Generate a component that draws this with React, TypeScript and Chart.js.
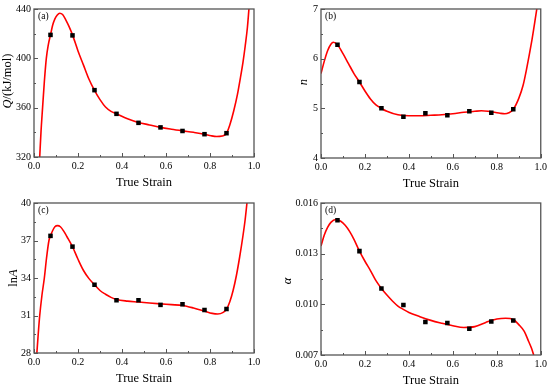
import React, { useEffect, useRef } from 'react';
import { Chart, registerables } from 'chart.js';

Chart.register(...registerables);

// ---------- data ----------
const strain = [0.075, 0.175, 0.275, 0.375, 0.475, 0.575, 0.675, 0.775, 0.875];
const qValues = [419, 418.6, 374.2, 355, 347.7, 344, 341.1, 338.5, 339.3];
const nValues = [6.28, 5.53, 5.0, 4.83, 4.9, 4.86, 4.94, 4.91, 4.98];
const lnAValues = [37.37, 36.51, 33.46, 32.22, 32.22, 31.85, 31.9, 31.44, 31.52];
const alphaValues = [0.01498, 0.01315, 0.01094, 0.00996, 0.00896, 0.0089, 0.00855, 0.00898, 0.00904];

const qFitX = [0.026, 0.032, 0.039, 0.047, 0.056, 0.065, 0.075, 0.085, 0.095, 0.105, 0.117, 0.13, 0.145, 0.16, 0.175, 0.2, 0.225, 0.25, 0.275, 0.3, 0.325, 0.35, 0.375, 0.425, 0.475, 0.525, 0.575, 0.625, 0.675, 0.725, 0.775, 0.805, 0.83, 0.855, 0.875, 0.89, 0.908, 0.925, 0.938, 0.95, 0.96, 0.97, 0.977];
const qFitY = [320, 341, 360, 381, 400, 411, 419, 427, 432, 435, 436.6, 435.5, 431, 425.5, 419, 406, 394.5, 383, 374, 366.5, 360.5, 357, 355, 351, 348, 346, 344, 342.5, 341.2, 340, 338.5, 337.2, 336.6, 337, 339.3, 346, 357.5, 371, 384, 397, 410, 425, 440];

const nFitX = [0, 0.015, 0.03, 0.045, 0.056, 0.075, 0.1, 0.125, 0.15, 0.175, 0.2, 0.225, 0.25, 0.275, 0.3, 0.35, 0.4, 0.45, 0.5, 0.55, 0.6, 0.65, 0.7, 0.73, 0.76, 0.79, 0.815, 0.836, 0.855, 0.875, 0.9, 0.92, 0.935, 0.95, 0.96, 0.968, 0.975, 0.982];
const nFitY = [5.7, 5.95, 6.16, 6.29, 6.33, 6.28, 6.1, 5.9, 5.7, 5.53, 5.35, 5.19, 5.07, 5.0, 4.94, 4.87, 4.85, 4.85, 4.86, 4.87, 4.89, 4.92, 4.94, 4.95, 4.94, 4.92, 4.9, 4.89, 4.91, 4.98, 5.2, 5.47, 5.78, 6.13, 6.38, 6.6, 6.8, 7.0];

const lnAFitX = [0.013, 0.02, 0.026, 0.036, 0.047, 0.057, 0.068, 0.075, 0.085, 0.095, 0.107, 0.12, 0.135, 0.15, 0.175, 0.2, 0.225, 0.25, 0.275, 0.3, 0.325, 0.35, 0.375, 0.425, 0.475, 0.525, 0.575, 0.625, 0.675, 0.725, 0.775, 0.81, 0.835, 0.86, 0.875, 0.89, 0.905, 0.92, 0.935, 0.95, 0.96, 0.968];
const lnAFitY = [28, 29.7, 31, 32.6, 34, 35.6, 37, 37.37, 37.8, 38.1, 38.19, 38.1, 37.75, 37.3, 36.5, 35.5, 34.6, 33.95, 33.46, 33.0, 32.7, 32.45, 32.28, 32.15, 32.08, 32.0, 31.93, 31.87, 31.8, 31.6, 31.35, 31.17, 31.12, 31.25, 31.5, 32.1, 33.0, 34.2, 35.7, 37.4, 38.7, 40];

const alphaFitX = [0, 0.015, 0.03, 0.045, 0.067, 0.09, 0.11, 0.13, 0.15, 0.175, 0.2, 0.225, 0.25, 0.275, 0.3, 0.325, 0.35, 0.375, 0.4, 0.45, 0.5, 0.55, 0.6, 0.65, 0.7, 0.75, 0.8, 0.84, 0.875, 0.9, 0.925, 0.945, 0.958, 0.968];
const alphaFitY = [0.01345, 0.0141, 0.01455, 0.01485, 0.01502, 0.01492, 0.01468, 0.01432, 0.01385, 0.01315, 0.01255, 0.0120, 0.0114, 0.01094, 0.01055, 0.0102, 0.0099, 0.0097, 0.00952, 0.00927, 0.00905, 0.00888, 0.00873, 0.00863, 0.00868, 0.00893, 0.00913, 0.00918, 0.0091, 0.0088, 0.0084, 0.0078, 0.0074, 0.0070];

const strainTicks = [0, 0.2, 0.4, 0.6, 0.8, 1.0];
const qTicks = [320, 360, 400, 440];
const nTicks = [4, 5, 6, 7];
const lnATicks = [28, 31, 34, 37, 40];
const alphaTicks = [0.007, 0.01, 0.013, 0.016];

const xTitle = 'True Strain';

// ---------- layout ----------
const FONT = '"Liberation Serif", "Times New Roman", serif';
const CW = 275;
const CH = 194;

type Part = { t: string; italic?: boolean };
type Panel = {
  tag: string;
  yTitle: Part[];
  pts: number[];
  fitX: number[];
  fitY: number[];
  yTicks: number[];
  decimals: number;
  pos: { left: number; top: number };
  area: { left: number; top: number; right: number; bottom: number };
  titleX: number;
  titleY: number;
};

const panels: Panel[] = [
  {
    tag: '(a)', yTitle: [{ t: 'Q', italic: true }, { t: '/(kJ/mol)' }],
    pts: qValues, fitX: qFitX, fitY: qFitY, yTicks: qTicks, decimals: 0,
    pos: { left: 0, top: 0 }, area: { left: 34, top: 6, right: 254, bottom: 157 },
    titleX: 11, titleY: 81,
  },
  {
    tag: '(b)', yTitle: [{ t: 'n', italic: true }],
    pts: nValues, fitX: nFitX, fitY: nFitY, yTicks: nTicks, decimals: 0,
    pos: { left: 275, top: 0 }, area: { left: 46, top: 6, right: 266, bottom: 158 },
    titleX: 32, titleY: 82,
  },
  {
    tag: '(c)', yTitle: [{ t: 'ln' }, { t: 'A', italic: true }],
    pts: lnAValues, fitX: lnAFitX, fitY: lnAFitY, yTicks: lnATicks, decimals: 0,
    pos: { left: 0, top: 194 }, area: { left: 34, top: 9, right: 254, bottom: 159 },
    titleX: 17, titleY: 84,
  },
  {
    tag: '(d)', yTitle: [{ t: 'α', italic: true }],
    pts: alphaValues, fitX: alphaFitX, fitY: alphaFitY, yTicks: alphaTicks, decimals: 3,
    pos: { left: 275, top: 194 }, area: { left: 46, top: 8, right: 266, bottom: 161 },
    titleX: 16, titleY: 87,
  },
];

function decoPlugin(p: Panel) {
  return {
    id: 'deco' + p.tag,
    afterDraw(chart: any) {
      const ctx = chart.ctx as CanvasRenderingContext2D;
      const { left, top, right, bottom } = chart.chartArea;
      const xs = chart.scales.x;
      const ys = chart.scales.y;
      ctx.save();
      ctx.strokeStyle = '#555';
      ctx.lineWidth = 1.3;
      ctx.strokeRect(left, top, right - left, bottom - top);
      ctx.lineWidth = 1;
      ctx.beginPath();
      const drawX = (v: number, len: number) => {
        const px = Math.round(xs.getPixelForValue(v)) + 0.5;
        ctx.moveTo(px, bottom);
        ctx.lineTo(px, bottom - len);
      };
      const drawY = (v: number, len: number) => {
        const py = Math.round(ys.getPixelForValue(v)) + 0.5;
        ctx.moveTo(left, py);
        ctx.lineTo(left + len, py);
      };
      strainTicks.forEach((v, i) => {
        drawX(v, 4);
        if (i < strainTicks.length - 1) drawX((v + strainTicks[i + 1]) / 2, 2);
      });
      p.yTicks.forEach((v, i) => {
        drawY(v, 4);
        if (i < p.yTicks.length - 1) drawY((v + p.yTicks[i + 1]) / 2, 2);
      });
      ctx.stroke();

      // panel tag
      ctx.fillStyle = '#000';
      ctx.font = `9.5px ${FONT}`;
      ctx.textAlign = 'left';
      ctx.textBaseline = 'top';
      ctx.fillText(p.tag, left + 4, top + 3);

      // x title
      ctx.font = `12.5px ${FONT}`;
      ctx.textAlign = 'center';
      ctx.textBaseline = 'alphabetic';
      ctx.fillText(xTitle, (left + right) / 2, bottom + 29);

      // y title (rotated, mixed styles)
      ctx.translate(p.titleX, p.titleY);
      ctx.rotate(-Math.PI / 2);
      ctx.textAlign = 'left';
      const fontOf = (pt: Part) => `${pt.italic ? 'italic ' : ''}12.5px ${FONT}`;
      let total = 0;
      const widths = p.yTitle.map((pt) => {
        ctx.font = fontOf(pt);
        const w = ctx.measureText(pt.t).width;
        total += w;
        return w;
      });
      let x0 = -total / 2;
      p.yTitle.forEach((pt, i) => {
        ctx.font = fontOf(pt);
        ctx.fillText(pt.t, x0, 0);
        x0 += widths[i];
      });
      ctx.restore();
    },
  };
}

function PanelChart({ p }: { p: Panel }) {
  const ref = useRef<HTMLCanvasElement | null>(null);
  useEffect(() => {
    if (!ref.current) return;
    const a = p.area;
    const chart = new Chart(ref.current, {
      type: 'scatter',
      data: {
        datasets: [
          {
            data: strain.map((x, i) => ({ x, y: p.pts[i] })),
            pointStyle: 'rect',
            pointRadius: 3.2,
            backgroundColor: '#000',
            borderColor: '#000',
            borderWidth: 0,
            showLine: false,
            order: 0,
          },
          {
            data: p.fitX.map((x, i) => ({ x, y: p.fitY[i] })),
            showLine: true,
            borderColor: '#ff0000',
            borderWidth: 1.6,
            pointRadius: 0,
            cubicInterpolationMode: 'monotone',
            order: 1,
          } as any,
        ],
      },
      options: {
        animation: false,
        responsive: false,
        layout: { padding: { left: 0, top: a.top, right: CW - a.right, bottom: 0 } },
        plugins: { legend: { display: false }, tooltip: { enabled: false } },
        events: [],
        scales: {
          x: {
            type: 'linear',
            min: 0,
            max: 1,
            afterBuildTicks: (s: any) => { s.ticks = strainTicks.map((v) => ({ value: v })); },
            afterFit: (s: any) => { s.height = CH - a.bottom; },
            ticks: {
              callback: (v: any) => Number(v).toFixed(1),
              font: { family: FONT, size: 10 },
              color: '#000',
              padding: 3,
              maxRotation: 0,
              autoSkip: false,
            },
            grid: { display: false, drawTicks: false },
            border: { display: false },
          },
          y: {
            type: 'linear',
            min: p.yTicks[0],
            max: p.yTicks[p.yTicks.length - 1],
            afterBuildTicks: (s: any) => { s.ticks = p.yTicks.map((v) => ({ value: v })); },
            afterFit: (s: any) => { s.width = a.left; },
            ticks: {
              callback: (v: any) => Number(v).toFixed(p.decimals),
              font: { family: FONT, size: 10 },
              color: '#000',
              padding: 3,
              autoSkip: false,
            },
            grid: { display: false, drawTicks: false },
            border: { display: false },
          },
        },
      },
      plugins: [decoPlugin(p)],
    } as any);
    return () => chart.destroy();
  }, [p]);
  return (
    <canvas
      ref={ref}
      width={CW}
      height={CH}
      style={{ position: 'absolute', left: p.pos.left, top: p.pos.top, width: CW, height: CH }}
    />
  );
}

export default function App() {
  return (
    <div style={{ position: 'fixed', left: 0, top: 0, width: 550, height: 388, background: '#fff' }}>
      {panels.map((p) => (
        <PanelChart key={p.tag} p={p} />
      ))}
    </div>
  );
}
